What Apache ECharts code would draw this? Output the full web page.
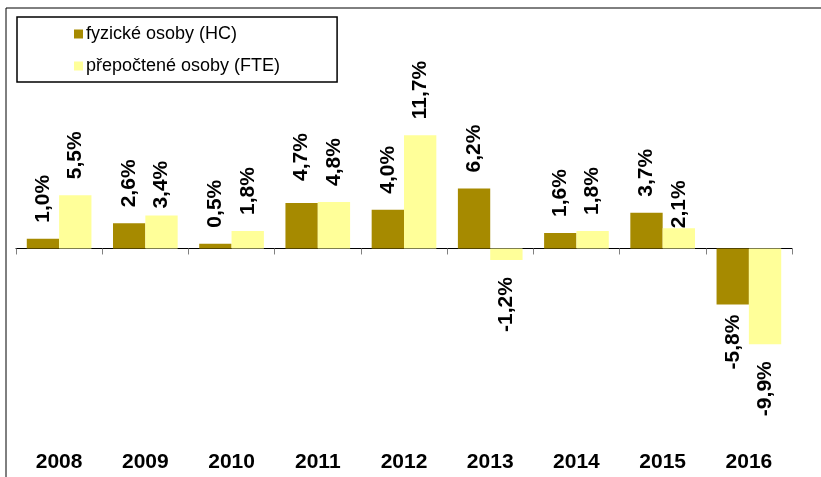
<!DOCTYPE html>
<html>
<head>
<meta charset="utf-8">
<title>fyzické a přepočtené osoby</title>
<script src="https://cdn.jsdelivr.net/npm/echarts@6/dist/echarts.min.js"></script>
<style>
    html, body { margin: 0; padding: 0; background: #fff; }
    #chart { width: 821px; height: 477px; }
</style>
</head>
<body>
<div id="chart"></div>
<script>
var years = ['2008', '2009', '2010', '2011', '2012', '2013', '2014', '2015', '2016'];
var hc_values = [1.0, 2.6, 0.5, 4.7, 4.0, 6.2, 1.6, 3.7, -5.8];
var fte_values = [5.5, 3.4, 1.8, 4.8, 11.7, -1.2, 1.8, 2.1, -9.9];
var series_names = ['fyzické osoby (HC)', 'přepočtené osoby (FTE)'];

// posuny popisku (jako v originale, kde jsou nektere popisky posunute)
var hc_label_dist = { 3: 22, 8: 10 };
var fte_label_dist = { 1: 7, 7: 0 };

function fmt(v) {
    return v.toFixed(1).replace('.', ',') + '%';
}

function buildData(values, dists) {
    var out = [];
    for (var i = 0; i < values.length; i++) {
        var v = values[i];
        var neg = v < 0;
        var d = dists[i] !== undefined ? dists[i] : (neg ? 17 : 16);
        out.push({
            value: v,
            label: {
                position: neg ? 'bottom' : 'top',
                align: neg ? 'right' : 'left',
                distance: d
            }
        });
    }
    return out;
}

var labelStyle = {
    show: true,
    rotate: 90,
    verticalAlign: 'middle',
    fontFamily: 'Liberation Sans, Arial, sans-serif',
    fontWeight: 'bold',
    fontSize: 21,
    color: '#000',
    formatter: function (p) { return fmt(p.value); }
};

window.onload = function () {
    var chart = echarts.init(document.getElementById('chart'));
    var option = {
        animation: false,
        backgroundColor: '#fff',
        graphic: [{
            type: 'rect',
            shape: { x: 6, y: 8, width: 900, height: 600 },
            style: { fill: 'none', stroke: '#000', lineWidth: 1 }
        }],
        legend: {
            orient: 'vertical',
            left: 17,
            top: 17,
            padding: [8, 57, 7, 57],
            borderColor: '#000',
            borderWidth: 1.5,
            itemWidth: 9,
            itemHeight: 9,
            itemGap: 14,
            icon: 'rect',
            textStyle: {
                fontFamily: 'Liberation Sans, Arial, sans-serif',
                fontSize: 18,
                color: '#000',
                padding: [0, 0, 0, -2]
            },
            data: series_names
        },
        grid: {
            left: 16,
            right: 29,
            top: 113,
            bottom: 35
        },
        xAxis: [{
            type: 'category',
            data: years,
            position: 'bottom',
            axisLine: { show: false, onZero: false },
            axisTick: { show: false },
            axisLabel: {
                margin: 10,
                fontFamily: 'Liberation Sans, Arial, sans-serif',
                fontWeight: 'bold',
                fontSize: 21,
                color: '#000'
            }
        }, {
            type: 'category',
            data: years,
            position: 'top',
            axisLine: { show: true, onZero: true, lineStyle: { color: '#000', width: 1 } },
            axisTick: { show: true, inside: true, length: 6, lineStyle: { color: '#808080' } },
            axisLabel: { show: false }
        }],
        yAxis: {
            type: 'value',
            min: -20,
            max: 14,
            show: false,
            splitLine: { show: false }
        },
        series: [{
            name: series_names[0],
            type: 'bar',
            xAxisIndex: 0,
            barGap: '0%',
            barCategoryGap: '25%',
            itemStyle: { color: '#A68A00' },
            label: labelStyle,
            data: buildData(hc_values, hc_label_dist)
        }, {
            name: series_names[1],
            type: 'bar',
            xAxisIndex: 0,
            itemStyle: { color: '#FFFF99' },
            label: labelStyle,
            data: buildData(fte_values, fte_label_dist)
        }]
    };
    chart.setOption(option);
};
</script>
</body>
</html>
